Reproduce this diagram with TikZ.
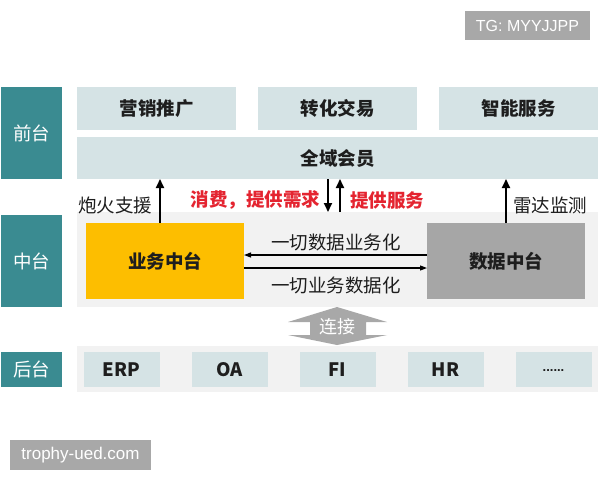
\documentclass[tikz,border=0pt]{standalone}
\usepackage{fontspec}
\setmainfont{Noto Sans CJK SC}
\newfontfamily\latinfont{Liberation Sans}
\usetikzlibrary{arrows.meta}
\definecolor{tealc}{RGB}{58,139,145}
\definecolor{litec}{RGB}{213,227,229}
\definecolor{panelc}{RGB}{242,242,242}
\definecolor{yellowc}{RGB}{253,190,0}
\definecolor{datac}{RGB}{166,166,166}
\definecolor{badgec}{RGB}{168,168,168}
\definecolor{txtc}{RGB}{30,30,30}
\definecolor{redc}{RGB}{228,36,48}
\begin{document}
\begin{tikzpicture}[x=1pt,y=-1pt,
  every node/.style={inner sep=0pt, outer sep=0pt},
  side/.style={fill=tealc, text=white, minimum width=61pt, font=\fontsize{18.5}{20}\selectfont},
  lite/.style={fill=litec, text=txtc, font=\fontsize{18.5}{20}\selectfont\bfseries},
  panel/.style={fill=panelc, minimum width=521pt},
  lbl/.style={text=txtc, font=\fontsize{18.5}{20}\selectfont},
  redlbl/.style={text=redc, font=\fontsize{18.5}{20}\selectfont\bfseries},
  bigarrow/.style={draw=black, line width=1.8pt, -{Triangle[length=9pt,width=8pt]}},
  thinarrow/.style={draw=black, line width=1.1pt, -{Triangle[length=7pt,width=5pt]}},
  badge/.style={fill=badgec, text=white, font=\latinfont\fontsize{16}{18}\selectfont}
]
\useasboundingbox[fill=white] (0,0) rectangle (600,480);

% watermark badges
\node[badge, minimum width=125pt, minimum height=29pt] (tg) at (527.5,25.5) {TG: MYYJJPP};
\node[badge, minimum width=141pt, minimum height=30pt, font=\latinfont\fontsize{17}{19}\selectfont] (tr) at (80.5,455) {trophy-ued.com};

% front layer
\node[side, minimum height=92pt] (front) at (31.5,133) {前台};
\node[lite, minimum width=159pt, minimum height=43pt] (mkt) at (156.5,108.5) {营销推广};
\node[lite, minimum width=159pt, minimum height=43pt] (conv) at (337.5,108.5) {转化交易};
\node[lite, minimum width=159pt, minimum height=43pt] (smart) at (518.5,108.5) {智能服务};
\node[lite, minimum width=521pt, minimum height=42pt] (member) at (337.5,158) {全域会员};

% middle layer
\node[side, minimum height=92pt] (mid) at (31.5,261) {中台};
\node[panel, minimum height=95pt] (midpanel) at (337.5,259.5) {};
\node[fill=yellowc, text=txtc, minimum width=158pt, minimum height=76pt, font=\fontsize{18.5}{20}\selectfont\bfseries] (biz) at (165,261) {业务中台};
\node[fill=datac, text=txtc, minimum width=158pt, minimum height=76pt, font=\fontsize{18.5}{20}\selectfont\bfseries] (data) at (506,261) {数据中台};

\draw[thinarrow] ([yshift=6pt]data.west) -- ([yshift=6pt]biz.east);
\draw[thinarrow] ([yshift=-7pt]biz.east) -- ([yshift=-7pt]data.west);
\node[lbl] (l1) at (336,242) {一切数据业务化};
\node[lbl] (l2) at (336,285) {一切业务数据化};

% vertical arrows
\draw[bigarrow] ([xshift=-5pt]biz.north) -- ([xshift=-5pt]biz.north |- member.south);
\draw[bigarrow] (data.north) -- (data.north |- member.south);
\draw[bigarrow] ([xshift=-9.5pt]member.south) -- ([xshift=-9.5pt]member.south |- midpanel.north);
\draw[bigarrow] ([xshift=2.5pt]midpanel.north) -- ([xshift=2.5pt]midpanel.north |- member.south);
\node[lbl, anchor=east] (fire) at (152,205) {炮火支援};
\node[lbl, anchor=west] (radar) at (513,205) {雷达监测};
\node[redlbl, anchor=east] (need) at (320,200) {消费，提供需求};
\node[redlbl, anchor=west] (serve) at (350,200) {提供服务};

% connect shape
\fill[badgec] (337,307) -- (387,322) -- (366,322) -- (366,335) -- (387,335) -- (337,345) -- (288,335) -- (310,335) -- (310,322) -- (288,322) -- cycle;
\node[text=white, font=\fontsize{18}{20}\selectfont] (link) at (337.5,327) {连接};

% back layer
\node[side, minimum height=35pt] (back) at (31.5,369.5) {后台};
\node[panel, minimum height=46pt] (backpanel) at (337.5,369) {};
\node[lite, minimum width=76pt, minimum height=35pt] (erp) at (121.5,369.5) {ERP};
\node[lite, minimum width=76pt, minimum height=35pt] (oa) at (229.5,369.5) {OA};
\node[lite, minimum width=76pt, minimum height=35pt] (fi) at (337.5,369.5) {FI};
\node[lite, minimum width=76pt, minimum height=35pt] (hr) at (445.5,369.5) {HR};
\node[lite, minimum width=76pt, minimum height=35pt, font=\latinfont\bfseries\fontsize{13}{15}\selectfont] (more) at (553.5,369.5) {\raisebox{-3pt}{......}};
\end{tikzpicture}
\end{document}
